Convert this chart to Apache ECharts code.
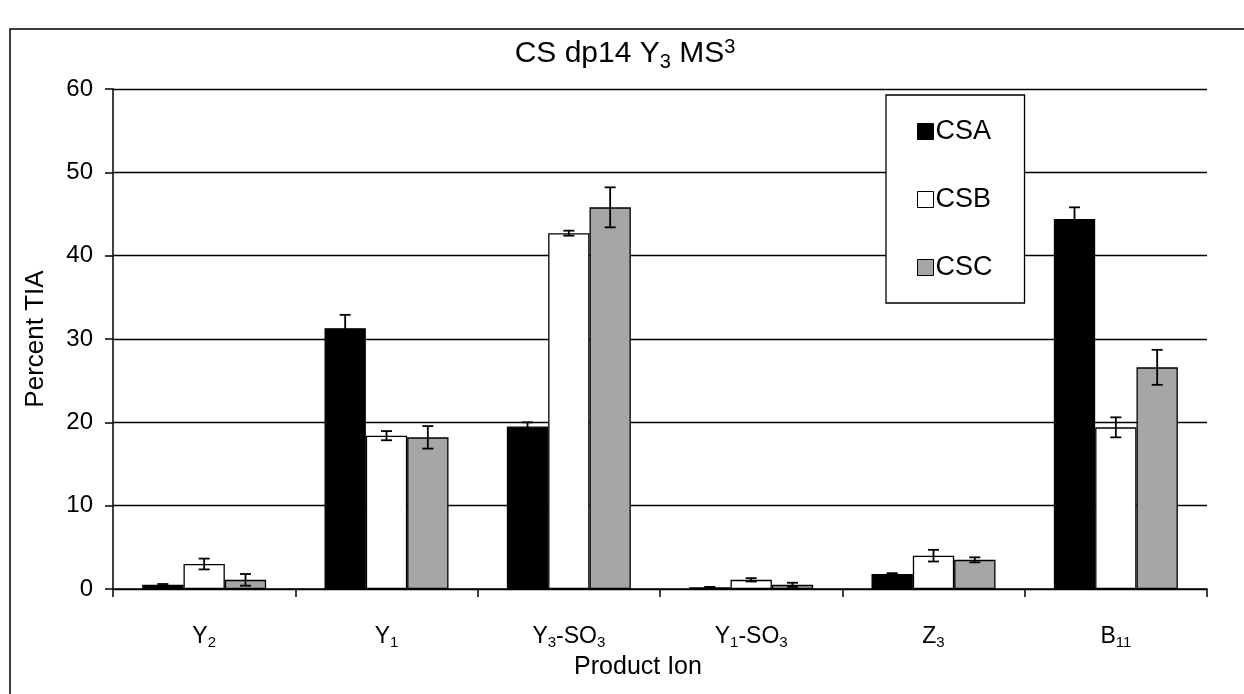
<!DOCTYPE html>
<html><head><meta charset="utf-8">
<script src="https://cdn.jsdelivr.net/npm/echarts@6/dist/echarts.min.js"></script>
<style>html,body{margin:0;padding:0;background:#fff}#c{width:1244px;height:694px}</style>
</head><body><div id="c"></div>
<script>
var categories = ['Y2', 'Y1', 'Y3-SO3', 'Y1-SO3', 'Z3', 'B11'];
var categoryLabels = ['{n|Y}{s|2}', '{n|Y}{s|1}', '{n|Y}{s|3}{n|-SO}{s|3}', '{n|Y}{s|1}{n|-SO}{s|3}', '{n|Z}{s|3}', '{n|B}{s|11}'];
var seriesNames = ['CSA', 'CSB', 'CSC'];
var csaValues = [0.5, 31.3, 19.5, 0.2, 1.8, 44.4];
var csbValues = [3.0, 18.4, 42.7, 1.1, 4.0, 19.4];
var cscValues = [1.1, 18.2, 45.8, 0.5, 3.5, 26.6];
var csaErrors = [0.1, 1.6, 0.5, 0.05, 0.1, 1.4];
var csbErrors = [0.65, 0.55, 0.3, 0.2, 0.7, 1.2];
var cscErrors = [0.7, 1.35, 2.4, 0.25, 0.3, 2.1];
var yTicks = [0, 10, 20, 30, 40, 50, 60];

var FONT = '"Liberation Sans", Arial, sans-serif';
var colors = ['#000000', '#ffffff', '#a6a6a6'];
var values = [csaValues, csbValues, cscValues];
var errors = [csaErrors, csbErrors, cscErrors];
var GAP = 0.32;

var chart = echarts.init(document.getElementById('c'), null, {renderer: 'canvas'});

function errSeries(i) {
  var data = values[i].map(function (v, k) { return [k, v, errors[i][k]]; });
  return {
    type: 'custom',
    name: seriesNames[i] + ' err',
    z: 10,
    silent: true,
    data: data,
    renderItem: function (params, api) {
      var k = api.value(0), v = api.value(1), e = api.value(2);
      var band = api.size([1, 0])[0];
      var group = band * (1 - GAP);
      var bw = group / 3;
      var off = -group / 2 + (i + 0.5) * bw;
      var hi = api.coord([k, v + e]);
      var lo = api.coord([k, v - e]);
      var x = hi[0] + off;
      var cap = 5.5;
      var st = {stroke: '#000', lineWidth: 1.8};
      return {
        type: 'group',
        children: [
          {type: 'line', shape: {x1: x, y1: hi[1], x2: x, y2: lo[1]}, style: st},
          {type: 'line', shape: {x1: x - cap, y1: hi[1], x2: x + cap, y2: hi[1]}, style: st},
          {type: 'line', shape: {x1: x - cap, y1: lo[1], x2: x + cap, y2: lo[1]}, style: st}
        ]
      };
    }
  };
}

var barSeries = seriesNames.map(function (n, i) {
  return {
    type: 'bar',
    name: n,
    data: values[i],
    barGap: 0,
    barCategoryGap: (GAP * 100) + '%',
    itemStyle: {color: colors[i], borderColor: '#000', borderWidth: 1.3},
    z: 3
  };
});

var option = {
  animation: false,
  backgroundColor: '#fff',
  textStyle: {fontFamily: FONT},
  title: {
    text: 'CS dp14 Y{s|3} MS{p|3}',
    left: 620, top: 31, textAlign: 'center',
    textStyle: {
      fontFamily: FONT, fontSize: 30, fontWeight: 'normal', color: '#000',
      rich: {
        s: {fontSize: 20, fontFamily: FONT, color: '#000', padding: [16, 0, 0, 0]},
        p: {fontSize: 20, fontFamily: FONT, color: '#000', padding: [0, 0, 14, 0]}
      }
    }
  },
  legend: {
    data: seriesNames,
    orient: 'vertical',
    left: 886, top: 95,
    padding: [23, 32, 22, 31],
    itemGap: 41,
    itemWidth: 16, itemHeight: 16,
    borderColor: '#000', borderWidth: 1.3,
    backgroundColor: '#fff',
    icon: 'rect',
    textStyle: {fontFamily: FONT, fontSize: 27, color: '#000', padding: [0, 0, 0, -3]},
    itemStyle: {borderColor: '#000', borderWidth: 1}
  },
  grid: {left: 113, right: 37, top: 89, bottom: 105, containLabel: false},
  xAxis: {
    type: 'category',
    data: categories,
    name: 'Product Ion',
    nameLocation: 'middle',
    nameGap: 62,
    nameTextStyle: {fontFamily: FONT, fontSize: 25, color: '#000', padding: [0, 44, 0, 0]},
    axisLine: {lineStyle: {color: '#000', width: 1.5}},
    axisTick: {show: true, length: 8, lineStyle: {color: '#000', width: 1.5}},
    axisLabel: {
      interval: 0,
      hideOverlap: false,
      margin: 34,
      formatter: function (v, idx) { return categoryLabels[idx]; },
      rich: {
        n: {fontSize: 23, fontFamily: FONT, color: '#000'},
        s: {fontSize: 15, fontFamily: FONT, color: '#000', padding: [12, 0, 0, 0]}
      }
    }
  },
  yAxis: {
    type: 'value',
    min: yTicks[0], max: yTicks[yTicks.length - 1], interval: 10,
    name: 'Percent TIA',
    nameLocation: 'middle',
    nameGap: 64,
    nameTextStyle: {fontFamily: FONT, fontSize: 26, color: '#000'},
    axisLine: {show: true, lineStyle: {color: '#000', width: 1.5}},
    axisTick: {show: true, length: 8, lineStyle: {color: '#000', width: 1.5}},
    axisLabel: {margin: 20, fontFamily: FONT, fontSize: 24, color: '#000'},
    splitLine: {show: true, lineStyle: {color: '#000', width: 1.3}}
  },
  graphic: [{
    type: 'rect', silent: true, z: -1,
    shape: {x: 10, y: 29, width: 1300, height: 800},
    style: {fill: 'none', stroke: '#000', lineWidth: 1.5}
  }],
  series: barSeries.concat([errSeries(0), errSeries(1), errSeries(2)])
};
chart.setOption(option);
</script></body></html>
